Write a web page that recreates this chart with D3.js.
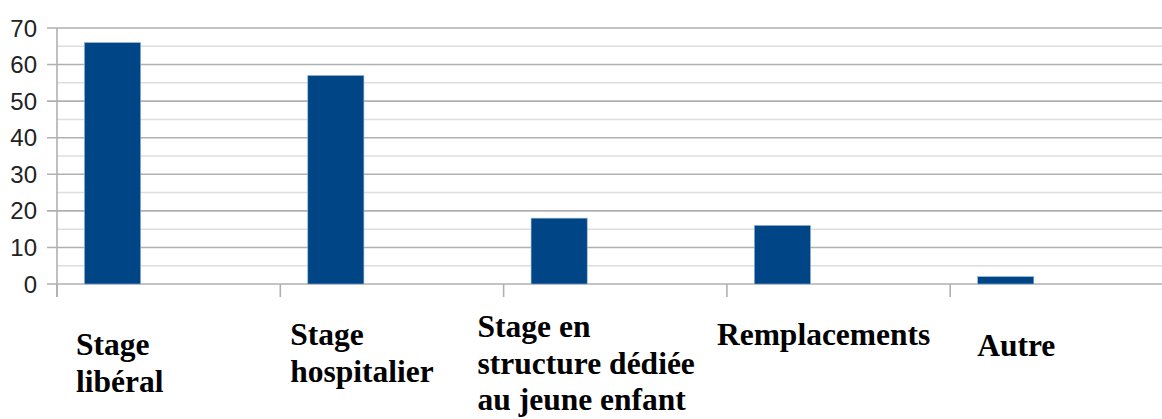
<!DOCTYPE html>
<html>
<head>
<meta charset="utf-8">
<script src="https://cdn.jsdelivr.net/npm/d3@7"></script>
<style>
  html, body { margin: 0; padding: 0; background: #fff; }
  svg { display: block; }
</style>
</head>
<body>
<svg id="svg" width="1162" height="419"></svg>
<script>
// data
var categories = ['Stage libéral', 'Stage hospitalier', 'Stage en structure dédiée au jeune enfant', 'Remplacements', 'Autre'];
var labelLines = [['Stage', 'libéral'], ['Stage', 'hospitalier'], ['Stage en', 'structure dédiée', 'au jeune enfant'], ['Remplacements'], ['Autre']];
var values = [66, 57, 18, 16, 2];
var seriesSlots = ['s1', 's2', 's3'];
var yTicks = [0, 10, 20, 30, 40, 50, 60, 70];
var yMinor = [5, 15, 25, 35, 45, 55, 65];

var width = 1162;
var height = 419;
var left = 57;
var top0 = 28;
var bottom0 = 284;

// labels are placed by hand in the source, nudge them
var labelDx = [19, 10, -26, -10, 27];
var labelDy = [355, 345, 337, 345, 356];
var lineH = 36.5;

var svg = d3.select('svg');

var x = d3.scaleBand()
    .domain(categories)
    .range([left, left + 5 * 223.3]);

var xs = d3.scaleBand()
    .domain(seriesSlots)
    .range([0, x.bandwidth()])
    .paddingOuter(0.49);

var y = d3.scaleLinear()
    .domain([0, 70])
    .range([bottom0, top0]);

// minor grid
svg.append('g')
    .selectAll('line')
    .data(yMinor)
    .enter()
    .append('line')
    .attr('x1', left)
    .attr('x2', width)
    .attr('y1', function (d) { return y(d); })
    .attr('y2', function (d) { return y(d); })
    .attr('stroke', '#dedede')
    .attr('stroke-width', 1.5);

// major grid + ticks
svg.append('g')
    .selectAll('line')
    .data(yTicks)
    .enter()
    .append('line')
    .attr('x1', left - 10)
    .attr('x2', width)
    .attr('y1', function (d) { return y(d); })
    .attr('y2', function (d) { return y(d); })
    .attr('stroke', '#b0b0b0')
    .attr('stroke-width', 1.6);

// y axis line
svg.append('line')
    .attr('x1', left)
    .attr('x2', left)
    .attr('y1', y(70))
    .attr('y2', bottom0 + 13)
    .attr('stroke', '#b0b0b0')
    .attr('stroke-width', 1.6);

// x ticks at band edges
svg.append('g')
    .selectAll('line')
    .data(categories)
    .enter()
    .append('line')
    .attr('x1', function (d) { return x(d); })
    .attr('x2', function (d) { return x(d); })
    .attr('y1', bottom0)
    .attr('y2', bottom0 + 13)
    .attr('stroke', '#b0b0b0')
    .attr('stroke-width', 1.6);

// y labels
svg.append('g')
    .selectAll('text')
    .data(yTicks)
    .enter()
    .append('text')
    .attr('x', 37)
    .attr('y', function (d) { return y(d); })
    .attr('dy', '0.36em')
    .attr('text-anchor', 'end')
    .attr('font-family', 'Liberation Sans, Arial, sans-serif')
    .attr('font-size', 24)
    .attr('fill', '#222')
    .text(function (d) { return d; });

// bars
svg.append('g')
    .selectAll('rect')
    .data(values)
    .enter()
    .append('rect')
    .attr('x', function (d, i) { return x(categories[i]) + xs('s1'); })
    .attr('y', function (d) { return y(d); })
    .attr('width', xs.bandwidth())
    .attr('height', function (d) { return y(0) - y(d); })
    .attr('fill', '#004586')
    .attr('stroke', '#8fb0d0')
    .attr('stroke-width', 0.6);

// category labels
var lab = svg.append('g')
    .selectAll('text')
    .data(labelLines)
    .enter()
    .append('text')
    .attr('font-family', 'Liberation Serif, Times New Roman, serif')
    .attr('font-weight', 'bold')
    .attr('font-size', 31.5)
    .attr('fill', '#000')
    .attr('transform', function (d, i) {
        return 'translate(' + (x(categories[i]) + labelDx[i]) + ',' + labelDy[i] + ')';
    });

lab.selectAll('tspan')
    .data(function (d) { return d; })
    .enter()
    .append('tspan')
    .attr('x', 0)
    .attr('y', function (d, j) { return j * lineH; })
    .text(function (d) { return d; });
</script>
</body>
</html>
